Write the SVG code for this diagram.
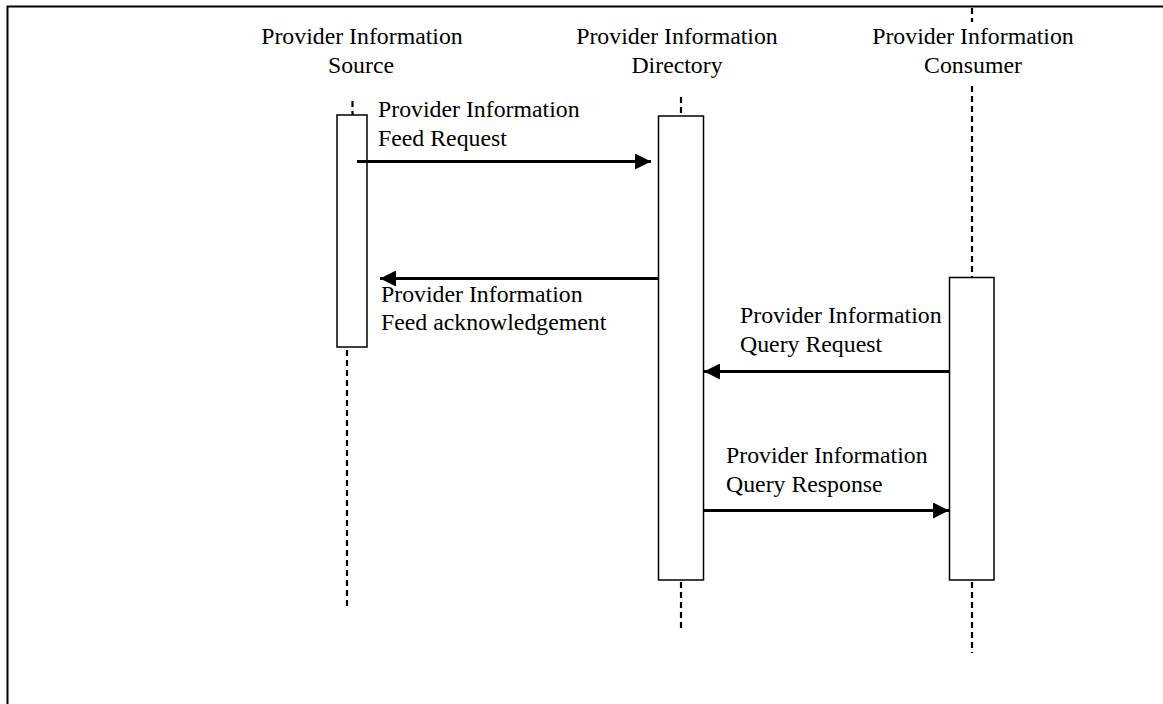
<svg xmlns="http://www.w3.org/2000/svg" width="1163" height="704" viewBox="0 0 1163 704">
<defs>
<style>
text{font-family:"Liberation Serif","Times New Roman",serif;font-size:23.8px;fill:#000}
.c{text-anchor:middle}
.box{fill:#fff;stroke:#000;stroke-width:1.5}
.life{stroke:#000;stroke-width:2.2;stroke-dasharray:6,4;fill:none}
.msg{stroke:#000;stroke-width:3;fill:none;marker-end:url(#ah)}
</style>
<marker id="ah" viewBox="0 0 16 16" refX="16" refY="8" markerWidth="16" markerHeight="16" markerUnits="userSpaceOnUse" orient="auto">
<path d="M0,0 L16,8 L0,16 Z" fill="#000"/>
</marker>
</defs>
<rect width="1163" height="704" fill="#fff"/>
<path d="M7.5,710 V6.5 H1170" fill="none" stroke="#000" stroke-width="2"/>
<g id="source">
<text class="c" x="362" y="44">Provider Information</text>
<text class="c" x="361" y="73">Source</text>
<line class="life" x1="352.5" y1="101" x2="352.5" y2="115"/>
<rect class="box" x="337" y="115" width="30" height="232"/>
<line class="life" x1="347" y1="350" x2="347" y2="606"/>
</g>
<g id="directory">
<text class="c" x="677" y="44">Provider Information</text>
<text class="c" x="677" y="73">Directory</text>
<line class="life" x1="681" y1="97" x2="681" y2="116"/>
<rect class="box" x="658.5" y="116" width="45" height="464"/>
<line class="life" x1="681" y1="582" x2="681" y2="629"/>
</g>
<g id="consumer">
<text class="c" x="973" y="44">Provider Information</text>
<text class="c" x="973" y="73">Consumer</text>
<line class="life" x1="972" y1="8" x2="972" y2="22"/>
<line class="life" x1="972" y1="86" x2="972" y2="277"/>
<rect class="box" x="949.5" y="277.5" width="44.5" height="302.5"/>
<line class="life" x1="972" y1="582" x2="972" y2="653"/>
</g>
<g id="connectors">
<line class="msg" x1="357" y1="161.5" x2="651" y2="161.5"/>
<line class="msg" x1="658" y1="278.5" x2="380" y2="278.5"/>
<line class="msg" x1="949" y1="371.5" x2="704" y2="371.5"/>
<line class="msg" x1="704" y1="510.5" x2="949" y2="510.5"/>
</g>
<g id="labels">
<text x="378" y="117">Provider Information</text>
<text x="378" y="146">Feed Request</text>
<text x="381" y="302">Provider Information</text>
<text x="381" y="330">Feed acknowledgement</text>
<text x="740" y="323">Provider Information</text>
<text x="740" y="352">Query Request</text>
<text x="726" y="463">Provider Information</text>
<text x="726" y="492">Query Response</text>
</g>
</svg>
